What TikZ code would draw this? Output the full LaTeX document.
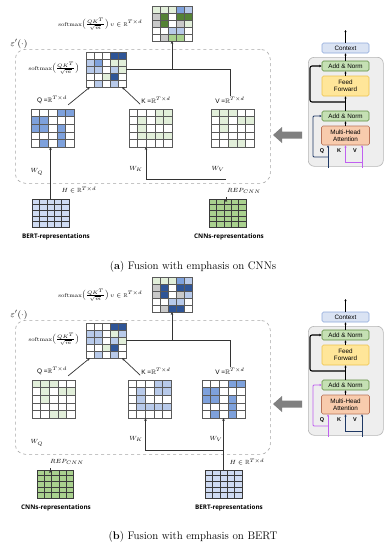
\documentclass[tikz,border=0pt]{standalone}
\usepackage{amsmath,amssymb}
\usepackage{fontspec}
\newfontfamily\arialf{Liberation Sans}
\newfontfamily\osf{Open Sans}
\usetikzlibrary{arrows.meta,calc}

\definecolor{cW}{HTML}{FFFFFF}
\definecolor{cB}{HTML}{7EA1DC}
\definecolor{cDB}{HTML}{2F5597}
\definecolor{cLB}{HTML}{B8CAEA}
\definecolor{cLG}{HTML}{E2EFDA}
\definecolor{cG}{HTML}{A9D18E}
\definecolor{cDG}{HTML}{548235}
\definecolor{cGr}{HTML}{C9C9C9}
\definecolor{cRB}{HTML}{CFDBF2}
\definecolor{cRG}{HTML}{A9D18E}
\definecolor{gridc}{HTML}{5A5A5A}
\definecolor{rgridc}{HTML}{3A3A3A}
\definecolor{dashc}{HTML}{A6A6A6}
\definecolor{linec}{HTML}{333333}
\definecolor{ctxfill}{HTML}{DAE3F3}
\definecolor{ctxdraw}{HTML}{8EA9DB}
\definecolor{anfill}{HTML}{C5E0B4}
\definecolor{andraw}{HTML}{5E8C3E}
\definecolor{fffill}{HTML}{FFE699}
\definecolor{ffdraw}{HTML}{EDC24A}
\definecolor{mhafill}{HTML}{F8CBAD}
\definecolor{mhadraw}{HTML}{B9745A}
\definecolor{tboxfill}{HTML}{EEEEEE}
\definecolor{tboxdraw}{HTML}{B5B5B5}
\definecolor{navyc}{HTML}{1F3864}
\definecolor{magc}{HTML}{C060F0}
\definecolor{bigarrow}{HTML}{808080}

\tikzset{
  gridline/.style={draw=gridc, line width=0.4pt},
  matbox/.style={draw=gridc, line width=0.5pt, inner sep=0pt, outer sep=0pt},
  dbox/.style={draw=dashc, dashed, rounded corners=10pt, line width=0.6pt, inner sep=0pt},
  lbl/.style={inner sep=1pt, font=\fontsize{6}{7}\selectfont},
  smlbl/.style={inner sep=0.5pt, font=\fontsize{5.6}{6.5}\selectfont},
  qkvlbl/.style={inner sep=1pt, font=\fontsize{6.5}{7.5}\selectfont\arialf},
  epsl/.style={inner sep=0pt, font=\fontsize{9}{10}\selectfont},
  replbl/.style={inner sep=1pt, font=\fontsize{6.3}{7}\selectfont\osf\bfseries},
  captext/.style={inner sep=0pt, font=\fontsize{11}{13}\selectfont},
  conn/.style={draw=linec, line width=0.7pt},
  arr/.style={conn, -{Stealth[length=3pt,width=2.6pt]}},
  tnode/.style={rounded corners=1.5pt, line width=0.6pt, inner sep=0pt, align=center,
    font=\fontsize{6.3}{7}\selectfont\arialf, minimum width=47pt},
  ctxnode/.style={tnode, fill=ctxfill, draw=ctxdraw, minimum height=10pt},
  annode/.style={tnode, fill=anfill, draw=andraw, minimum height=10pt},
  ffnode/.style={tnode, fill=fffill, draw=ffdraw, minimum height=20pt},
  mhanode/.style={tnode, fill=mhafill, draw=mhadraw, minimum height=19pt, minimum width=48pt},
  tbox/.style={fill=tboxfill, draw=tboxdraw, rounded corners=6pt, line width=0.6pt, inner sep=0pt},
  tline/.style={draw=black, line width=0.8pt},
  tarr/.style={tline, -{Stealth[length=2.2pt,width=2.2pt]}},
  resid/.style={draw=black, line width=1.1pt, rounded corners=2pt, -{Stealth[length=2.6pt,width=2.6pt]}},
  inarr/.style={line width=0.9pt, -{Stealth[length=2.4pt,width=2.4pt]}},
  tlab/.style={inner sep=0pt, font=\fontsize{5.5}{6}\selectfont\arialf\bfseries},
}

\newcommand{\smfrac}{\mathrm{softmax}\Bigl(\tfrac{QK^T}{\sqrt{m}}\Bigr)}

% #1 name, #2 x, #3 y, #4 cell w, #5 cell h, #6 colors (row-major 5x5), #7 grid colour
\newcommand{\drawmatrix}[7]{%
  \foreach \cc [count=\i from 0] in {#6} {%
    \pgfmathtruncatemacro\rr{\i/5}%
    \pgfmathtruncatemacro\qq{\i-5*\rr}%
    \fill[\cc] (#2+\qq*#4, #3+\rr*#5) rectangle ++(#4,#5);
  }%
  \foreach \k in {1,...,4} {%
    \draw[gridline, draw=#7] (#2+\k*#4, #3) -- ++(0,5*#5);
    \draw[gridline, draw=#7] (#2, #3+\k*#5) -- ++(5*#4,0);
  }%
  \node[matbox, draw=#7, minimum width={5*#4pt}, minimum height={5*#5pt}, anchor=north west] (#1) at (#2,#3) {};
}

% transformer block: #1 prefix, #2 Q colour, #3 K/V colour
\newcommand{\transformerblock}[3]{%
  \node[tbox, minimum width=75pt, minimum height=109pt, anchor=north west] (#1box) at (308,57) {};
  \node[ctxnode] (#1ctx) at (345.5,48) {Context};
  \node[annode] (#1anA) at (345.5,66) {Add \& Norm};
  \node[ffnode] (#1ff) at (345.5,86) {Feed\\Forward};
  \node[annode] (#1anB) at (345.5,116) {Add \& Norm};
  \node[mhanode] (#1mha) at (345.5,135.5) {Multi-Head\\Attention};
  \coordinate (#1top) at (345.5,30);
  \draw[tarr] (#1ctx) -- (#1top);
  \draw[tarr] (#1anA) -- (#1ctx);
  \draw[tarr] (#1ff) -- (#1anA);
  \draw[tarr] (#1anB) -- (#1ff);
  \draw[tarr] (#1mha) -- (#1anB);
  \coordinate (#1rs) at (345.5,102);
  \draw[resid] (#1rs) -- (310,102) -- (310,66) -- (#1anA.west);
  \coordinate (#1qin) at (328,168);
  \coordinate (#1qb) at (328,157);
  \draw[inarr, draw=#2] (#1qin) -- (#1qin |- #1mha.south);
  \draw[inarr, draw=#2, rounded corners=1pt] (#1qb) -- (313,157) -- (313,116) -- (#1anB.west);
  \coordinate (#1vin) at (362,168);
  \coordinate (#1kb) at (362,162);
  \draw[inarr, draw=#3] (#1vin) -- (#1vin |- #1mha.south);
  \draw[inarr, draw=#3] (#1kb) -- (345.5,162) -- (#1mha.south);
  \node[tlab] (#1ql) at (322,151) {Q};
  \node[tlab] (#1kl) at (339,151) {K};
  \node[tlab] (#1vl) at (355,151) {V};
  \fill[bigarrow] (273,135) -- (282,127) -- (282,131.5) -- (302,131.5) -- (302,138.5) -- (282,138.5) -- (282,143) -- cycle;
}

\begin{document}
\begin{tikzpicture}[x=1pt,y=-1pt]
\fill[white] (0,0) rectangle (391,550);
\useasboundingbox (0,0) rectangle (391,550);

%================ panel (a) ================
\node[dbox, minimum width=255pt, minimum height=134pt, anchor=north west] (boxA) at (15,49) {};
\node[epsl] (epsA) at (19,44) {$\varepsilon'(\cdot)$};

\drawmatrix{OutA}{152}{6}{8}{7}{cLG,cLG,cLG,cB,cLB,cGr,cDG,cW,cDG,cDG,cGr,cDG,cW,cGr,cLG,cW,cW,cLB,cLB,cW,cW,cGr,cG,cG,cW}{gridc}
\node[smlbl, anchor=east] (oLA) at (143,24) {$\smfrac\, v \in \mathbb{R}^{T\times d}$};

\drawmatrix{SmA}{86}{52}{8}{7}{cW,cW,cW,cDB,cDB,cLB,cB,cW,cLG,cLG,cLB,cLB,cW,cLB,cLG,cW,cW,cLG,cDB,cW,cW,cLB,cW,cLB,cW}{gridc}
\node[smlbl, anchor=east] (sLA) at (80,68) {$\smfrac$};

\node[qkvlbl] (qlA) at (52,100) {Q =$\mathbb{R}^{T\times d}$};
\node[qkvlbl] (klA) at (156,100) {K =$\mathbb{R}^{T\times d}$};
\node[qkvlbl] (vlA) at (230,100) {V =$\mathbb{R}^{T\times d}$};

\drawmatrix{QA}{31}{109}{8.6}{7.6}{cW,cW,cW,cB,cB,cB,cB,cW,cW,cW,cB,cB,cW,cB,cW,cW,cW,cW,cB,cW,cW,cB,cW,cB,cW}{gridc}
\drawmatrix{KA}{129}{109}{8.6}{7.6}{cW,cW,cW,cLG,cLG,cW,cLG,cW,cLG,cLG,cW,cLG,cW,cW,cW,cW,cLG,cLG,cLG,cLG,cW,cW,cW,cW,cW}{gridc}
\drawmatrix{VA}{211}{109}{8.6}{7.6}{cLG,cLG,cLG,cW,cW,cW,cLG,cW,cLG,cLG,cW,cLG,cW,cW,cW,cW,cW,cW,cW,cW,cW,cW,cLG,cLG,cW}{gridc}

\drawmatrix{BertA}{32}{199}{7.4}{5.6}{cRB,cRB,cRB,cRB,cRB,cRB,cRB,cRB,cRB,cRB,cRB,cRB,cRB,cRB,cRB,cRB,cRB,cRB,cRB,cRB,cRB,cRB,cRB,cRB,cRB}{rgridc}
\drawmatrix{CnnA}{209}{199}{7.4}{5.6}{cRG,cRG,cRG,cRG,cRG,cRG,cRG,cRG,cRG,cRG,cRG,cRG,cRG,cRG,cRG,cRG,cRG,cRG,cRG,cRG,cRG,cRG,cRG,cRG,cRG}{rgridc}
\node[replbl] (rlA1) at (56,237) {BERT-representations};
\node[replbl] (rlA2) at (229,237) {CNNs-representations};

\draw[arr] (qlA.south east) -- ($(SmA.south west)+(4,0)$);
\draw[arr] (klA.south west) -- ($(SmA.south east)+(-4,0)$);
\draw[conn] (SmA.east) -| (vlA.north);
\draw[arr] (SmA.east -| OutA.south) -- (OutA.south);

\draw[arr] (BertA.north) -- (BertA.north |- QA.south);
\coordinate (jA) at ($(CnnA.north)+(-1.5,-20)$);
\draw[arr] ($(CnnA.north)+(-1.5,0)$) -- ($(CnnA.north)+(-1.5,0)$ |- VA.south);
\draw[arr] (jA) -| ($(KA.south)+(-4.5,0)$);

\node[lbl] (wqA) at (37,172) {$W_Q$};
\node[lbl] (wkA) at (136,169) {$W_K$};
\node[lbl] (wvA) at (218,169) {$W_V$};
\node[lbl] (hA) at (79,190) {$H \in \mathbb{R}^{T\times d}$};
\node[lbl] (repA) at (244,191) {$REP_{CNN}$};

\transformerblock{tA}{navyc}{magc}

\node[captext] (capA) at (193,267) {(\textbf{a}) Fusion with emphasis on CNNs};

%================ panel (b) ================
\node[dbox, minimum width=255pt, minimum height=134pt, anchor=north west] (boxB) at (15,320) {};
\node[epsl] (epsB) at (19,315) {$\varepsilon'(\cdot)$};

\drawmatrix{OutB}{152}{277}{8}{7}{cLG,cLG,cLG,cB,cLB,cGr,cDB,cW,cDB,cDB,cGr,cDB,cW,cGr,cLB,cW,cW,cLB,cLB,cW,cW,cGr,cDB,cDB,cW}{gridc}
\node[smlbl, anchor=east] (oLB) at (143,295) {$\smfrac\, v \in \mathbb{R}^{T\times d}$};

\drawmatrix{SmB}{86}{323}{8}{7}{cW,cW,cW,cDB,cDB,cLB,cLB,cW,cLG,cLB,cLB,cLB,cW,cLB,cLG,cW,cW,cLG,cDB,cW,cW,cLB,cW,cLB,cW}{gridc}
\node[smlbl, anchor=east] (sLB) at (80,339) {$\smfrac$};

\node[qkvlbl] (qlB) at (52,371) {Q =$\mathbb{R}^{T\times d}$};
\node[qkvlbl] (klB) at (156,371) {K =$\mathbb{R}^{T\times d}$};
\node[qkvlbl] (vlB) at (230,371) {V =$\mathbb{R}^{T\times d}$};

\drawmatrix{QB}{32}{380}{8.6}{7.6}{cLG,cLG,cLG,cW,cW,cW,cLG,cW,cLG,cLG,cW,cLG,cW,cW,cW,cW,cW,cW,cW,cW,cW,cW,cLG,cLG,cW}{gridc}
\drawmatrix{KB}{128}{380}{8.6}{7.6}{cW,cW,cW,cLB,cLB,cW,cLB,cW,cLB,cLB,cW,cLB,cW,cW,cW,cW,cLB,cLB,cLB,cLB,cW,cW,cW,cW,cW}{gridc}
\drawmatrix{VB}{202}{380}{8.6}{7.6}{cW,cW,cW,cB,cB,cB,cB,cW,cW,cW,cB,cB,cW,cB,cW,cW,cW,cW,cB,cW,cW,cB,cW,cB,cW}{gridc}

\drawmatrix{CnnB}{37}{470}{7.3}{5.6}{cRG,cRG,cRG,cRG,cRG,cRG,cRG,cRG,cRG,cRG,cRG,cRG,cRG,cRG,cRG,cRG,cRG,cRG,cRG,cRG,cRG,cRG,cRG,cRG,cRG}{rgridc}
\drawmatrix{BertB}{205}{470}{7.4}{5.6}{cRB,cRB,cRB,cRB,cRB,cRB,cRB,cRB,cRB,cRB,cRB,cRB,cRB,cRB,cRB,cRB,cRB,cRB,cRB,cRB,cRB,cRB,cRB,cRB,cRB}{rgridc}
\node[replbl] (rlB1) at (56,508) {CNNs-representations};
\node[replbl] (rlB2) at (229,508) {BERT-representations};

\draw[arr] (qlB.south east) -- ($(SmB.south west)+(4,0)$);
\draw[arr] (klB.south west) -- ($(SmB.south east)+(-4,0)$);
\draw[conn] (SmB.east) -| (vlB.north);
\draw[arr] (SmB.east -| OutB.south) -- (OutB.south);

\draw[arr] ($(CnnB.north)+(-5,0)$) -- ($(CnnB.north)+(-5,0)$ |- QB.south);
\coordinate (jB) at ($(BertB.north)+(0,-20)$);
\draw[arr] (BertB.north) -- (BertB.north |- VB.south);
\draw[arr] (jB) -| ($(KB.south)+(-4,0)$);

\node[lbl] (wqB) at (37,443) {$W_Q$};
\node[lbl] (wkB) at (136,439) {$W_K$};
\node[lbl] (wvB) at (216,439) {$W_V$};
\node[lbl] (repB) at (67,462) {$REP_{CNN}$};
\node[lbl] (hB) at (247,462) {$H \in \mathbb{R}^{T\times d}$};

\begin{scope}[shift={(0,269)}]
\transformerblock{tB}{magc}{navyc}
\end{scope}

\node[captext] (capB) at (193,537) {(\textbf{b}) Fusion with emphasis on BERT};
\end{tikzpicture}
\end{document}
